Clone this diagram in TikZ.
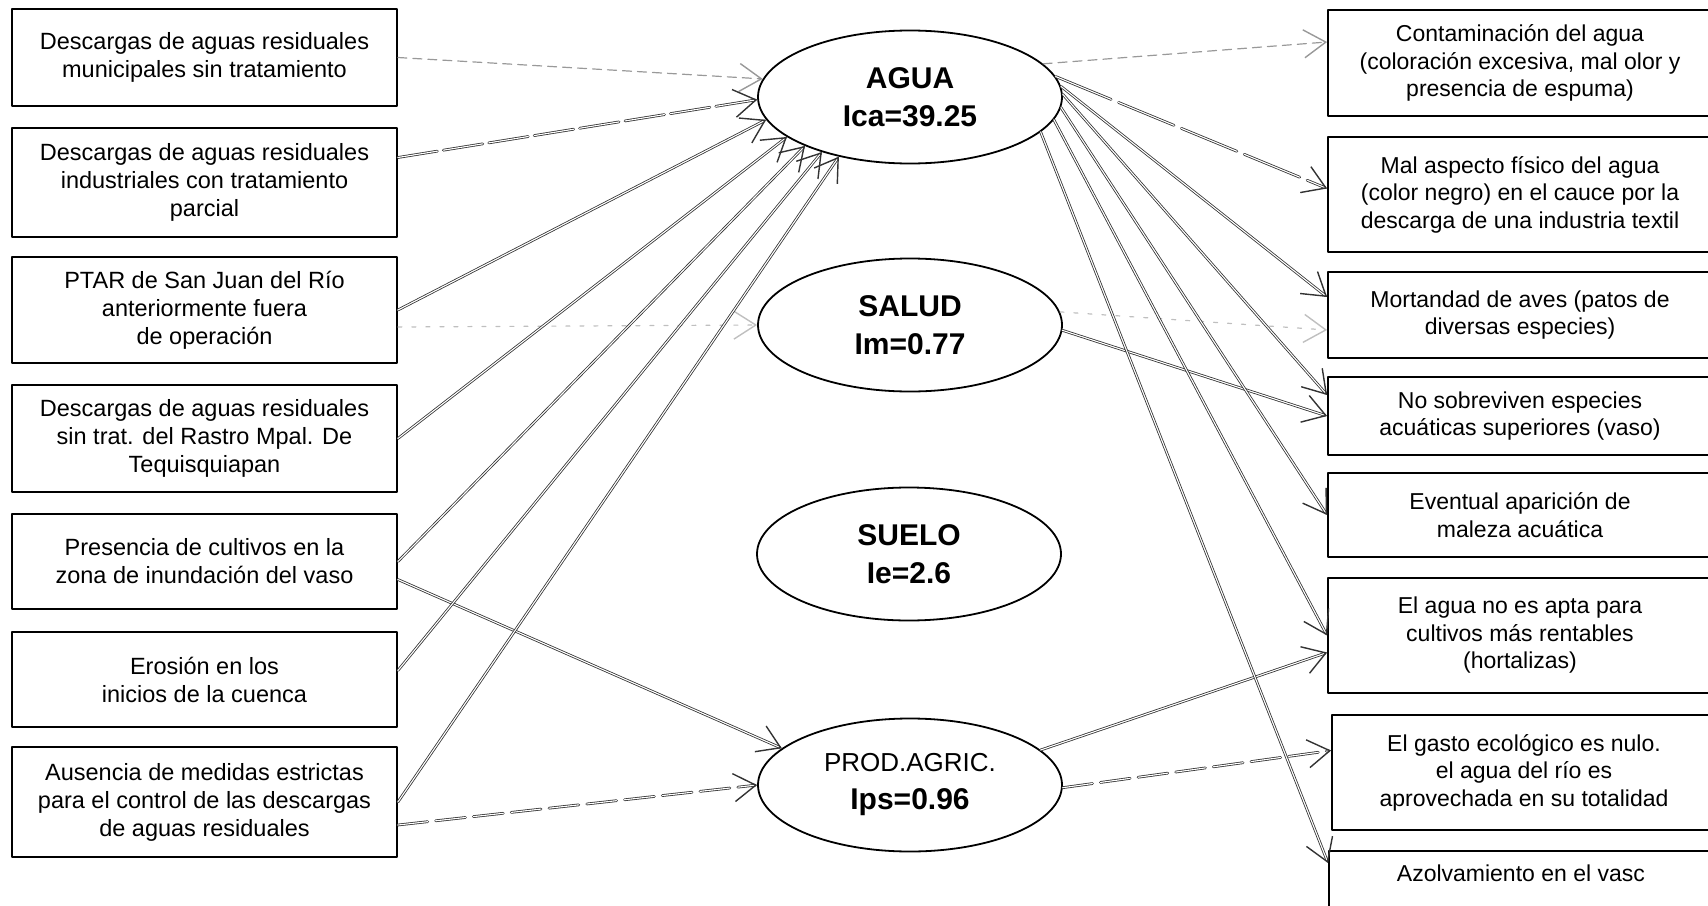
\documentclass[tikz,border=0pt]{standalone}
\usepackage{fontspec}
\setmainfont{Liberation Sans}
\usetikzlibrary{arrows.meta,shapes.geometric}
\tikzset{
  causa/.style={draw,line width=1.8pt,minimum width=385pt,inner sep=0pt,align=center,font=\fontsize{23.5}{28}\selectfont},
  efecto/.style={draw,line width=1.8pt,minimum width=384pt,inner sep=0pt,align=center,font=\fontsize{23}{27.5}\selectfont},
  medio/.style={ellipse,draw,line width=1.8pt,minimum width=304pt,minimum height=133pt,inner sep=0pt,align=center,font=\bfseries\fontsize{30}{38}\selectfont},
  flecha/.style={draw=black!80,double=white,double distance=1.1pt,line width=0.8pt,-{Straight Barb[length=22pt,width=28pt,line width=1.4pt]}},
  tenue/.style={draw=black!40,line width=1.2pt,dash pattern=on 9pt off 6pt,-{Straight Barb[length=22pt,width=28pt,line width=1.4pt]}}
}

\begin{document}
\begin{tikzpicture}[line cap=round,line join=round,x=1pt,y=-1pt]
            \useasboundingbox (0,0) rectangle (1708,905);
            \node[causa,minimum height=97pt] (municipales) at (204.5,57.5) {Descargas de aguas residuales\\municipales sin tratamiento};
            \node[causa,minimum height=109pt] (industriales) at (204.5,182.5) {Descargas de aguas residuales\\industriales con tratamiento\\parcial};
            \node[causa,minimum height=106pt] (ptar) at (204.5,310) {PTAR de San Juan del Río\\anteriormente fuera\\de operación};
            \node[causa,minimum height=107pt] (rastro) at (204.5,438.5) {Descargas de aguas residuales\\sin trat. del Rastro Mpal. De\\Tequisquiapan};
            \node[causa,minimum height=95pt] (cultivos) at (204.5,561.5) {Presencia de cultivos en la\\zona de inundación del vaso};
            \node[causa,minimum height=95pt] (erosion) at (204.5,679.5) {Erosión en los\\inicios de la cuenca};
            \node[causa,minimum height=110pt] (medidas) at (204.5,802) {Ausencia de medidas estrictas\\para el control de las descargas\\de aguas residuales};
            \node[medio] (agua) at (910,97) {AGUA\\Ica=39.25};
            \node[medio] (salud) at (910,325) {SALUD\\Im=0.77};
            \node[medio] (suelo) at (909,554) {SUELO\\Ie=2.6};
            \node[medio] (prod) at (910,785) {{\mdseries\fontsize{26}{38}\selectfont PROD.AGRIC.}\\Ips=0.96};
            \node[efecto,minimum height=106pt] (contaminacion) at (1520,63) {Contaminación del agua\\(coloración excesiva, mal olor y\\presencia de espuma)};
            \node[efecto,minimum height=115pt] (aspecto) at (1520,194.5) {Mal aspecto físico del agua\\(color negro) en el cauce por la\\descarga de una industria textil};
            \node[efecto,minimum height=86pt] (aves) at (1520,315) {Mortandad de aves (patos de\\diversas especies)};
            \node[efecto,minimum height=78pt] (especies) at (1520,416) {No sobreviven especies\\acuáticas superiores (vaso)};
            \node[efecto,minimum height=84pt] (maleza) at (1520,515) {Eventual aparición de\\maleza acuática};
            \node[efecto,minimum height=115pt] (hortalizas) at (1520,635.5) {El agua no es apta para\\cultivos más rentables\\(hortalizas)};
            \node[efecto,minimum height=115pt] (gasto) at (1524,772.5) {El gasto ecológico es nulo.\\el agua del río es\\aprovechada en su totalidad};
            \node[efecto,anchor=north west,text height=31pt,text depth=40pt] (azolve) at (1328,850) {Azolvamiento en el vasc};
            \draw[tenue] (municipales.east) -- (agua.173);
            \draw[flecha,dash pattern=on 40pt off 6pt] ([yshift=25pt]industriales.east) -- (agua.181);
            \draw[flecha] (ptar.east) -- (agua.189);
            \draw[tenue,black!25,dash pattern=on 4pt off 10pt] ([yshift=-17pt]ptar.east) -- (salud.180);
            \draw[flecha] (rastro.east) -- (agua.198);
            \draw[flecha] (cultivos.east) -- (agua.205);
            \draw[flecha] ([yshift=-18pt]cultivos.east) -- (prod.164);
            \draw[flecha] ([yshift=9pt]erosion.east) -- (agua.212);
            \draw[flecha] (medidas.east) -- (agua.220);
            \draw[flecha,dash pattern=on 30pt off 8pt] ([yshift=-23pt]medidas.east) -- (prod.180);
            \draw[tenue] (agua.14) -- ([yshift=21pt]contaminacion.west);
            \draw[flecha,dash pattern=on 60pt off 8pt] (agua.8) -- ([yshift=6pt]aspecto.west);
            \draw[flecha] (agua.4) -- ([yshift=18pt]aves.west);
            \draw[tenue,black!25,dash pattern=on 4pt off 10pt] (salud.5) -- ([yshift=-15pt]aves.west);
            \draw[flecha] (agua.1) -- ([yshift=21pt]especies.west);
            \draw[flecha] (salud.-2) -- (especies.west);
            \draw[flecha] (agua.-4) -- (maleza.west);
            \draw[flecha] (agua.-9) -- (hortalizas.west);
            \draw[flecha] (prod.15) -- ([yshift=-17pt]hortalizas.west);
            \draw[flecha,dash pattern=on 30pt off 8pt] (prod.-1) -- ([yshift=22pt]gasto.west);
            \draw[flecha] (agua.-15) -- ([yshift=-13pt]azolve.north west);
            \end{tikzpicture}
\end{document}
